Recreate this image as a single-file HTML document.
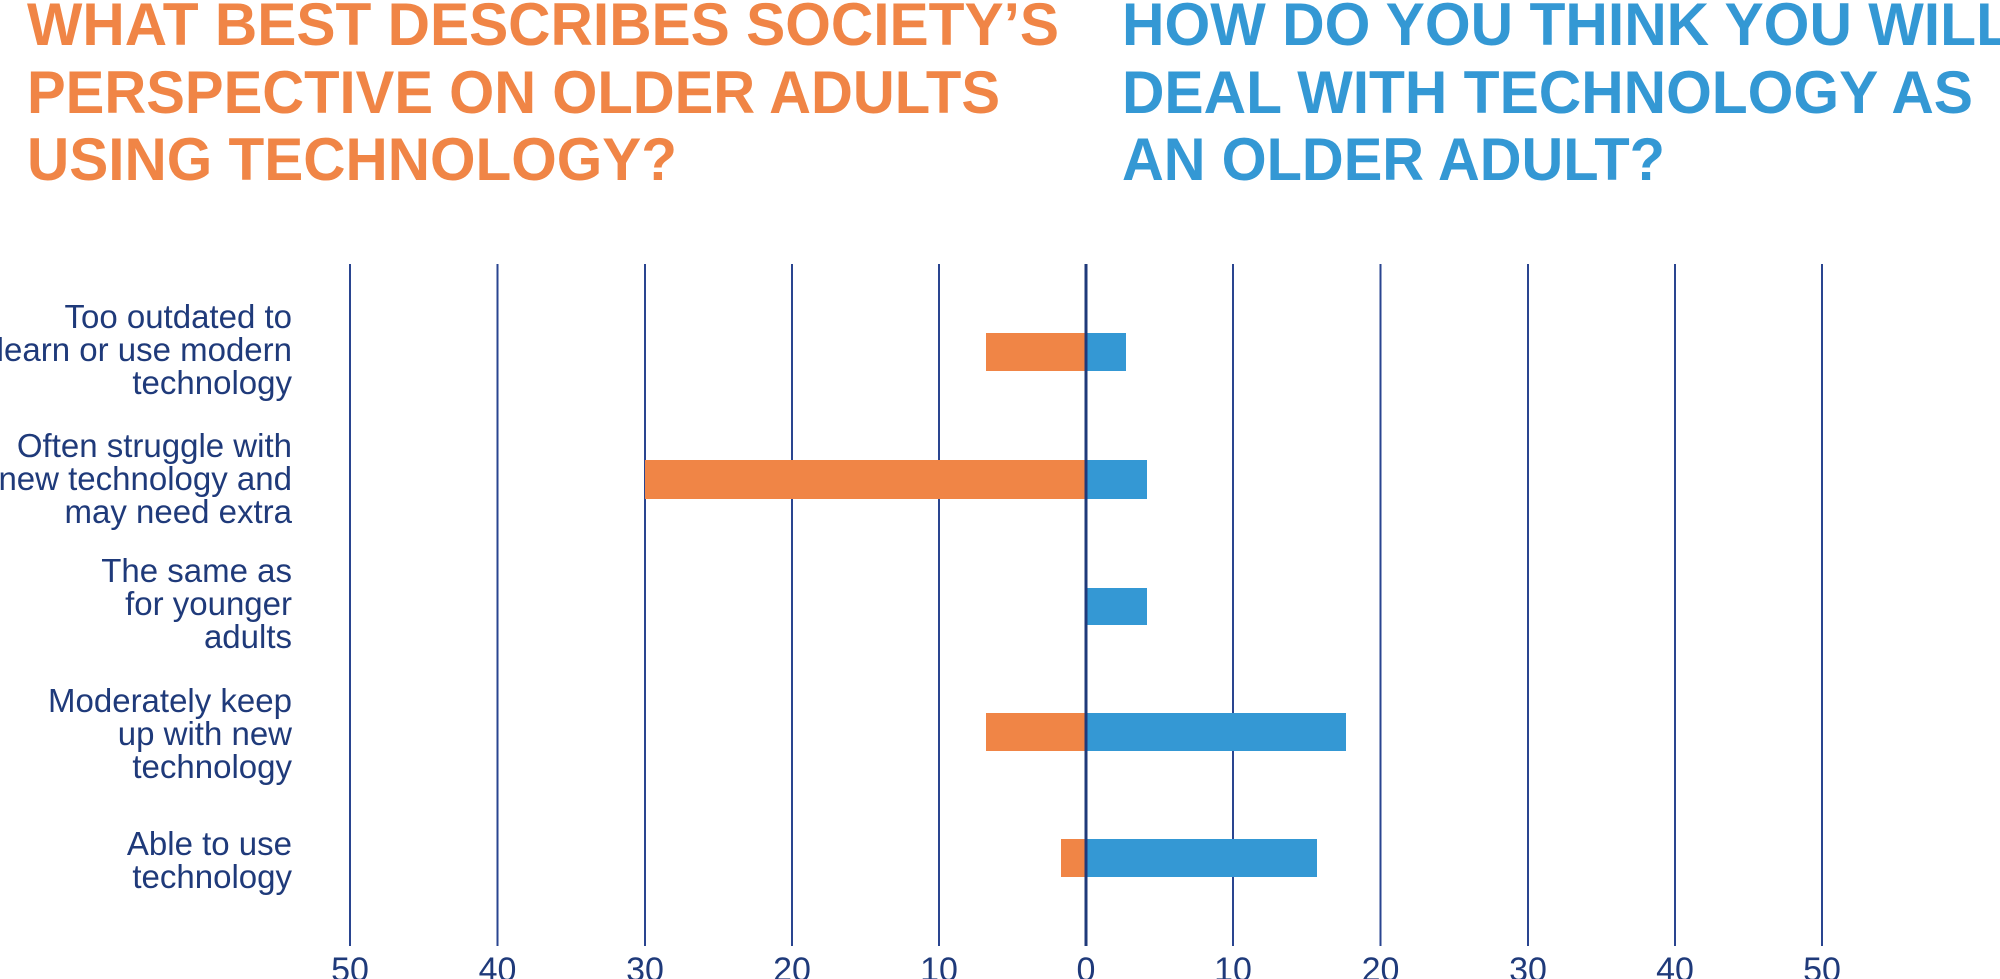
<!DOCTYPE html>
<html><head><meta charset="utf-8"><style>
html,body{margin:0;padding:0;background:#fff;overflow:hidden}
svg{display:block}
text{font-family:"Liberation Sans",sans-serif}
</style></head><body>
<svg width="2000" height="979" viewBox="0 0 2000 979" xmlns="http://www.w3.org/2000/svg">
<g font-weight="bold" font-size="60" fill="#F08546">
<text x="27" y="45" textLength="1032" lengthAdjust="spacingAndGlyphs">WHAT BEST DESCRIBES SOCIETY’S</text>
<text x="27" y="113" textLength="973" lengthAdjust="spacingAndGlyphs">PERSPECTIVE ON OLDER ADULTS</text>
<text x="27" y="180" textLength="650" lengthAdjust="spacingAndGlyphs">USING TECHNOLOGY?</text>
</g>
<g font-weight="bold" font-size="60" fill="#3498D4">
<text x="1122" y="45" textLength="890" lengthAdjust="spacingAndGlyphs">HOW DO YOU THINK YOU WILL</text>
<text x="1122" y="113" textLength="851" lengthAdjust="spacingAndGlyphs">DEAL WITH TECHNOLOGY AS</text>
<text x="1122" y="180" textLength="543" lengthAdjust="spacingAndGlyphs">AN OLDER ADULT?</text>
</g>
<g stroke="#2A4590" stroke-width="2">
<line x1="350" y1="264" x2="350" y2="946"/>
<line x1="497.5" y1="264" x2="497.5" y2="946"/>
<line x1="645" y1="264" x2="645" y2="946"/>
<line x1="792" y1="264" x2="792" y2="946"/>
<line x1="939" y1="264" x2="939" y2="946"/>
<line x1="1233" y1="264" x2="1233" y2="946"/>
<line x1="1380.5" y1="264" x2="1380.5" y2="946"/>
<line x1="1528" y1="264" x2="1528" y2="946"/>
<line x1="1675" y1="264" x2="1675" y2="946"/>
<line x1="1822" y1="264" x2="1822" y2="946"/>
</g>
<g fill="#F08546">
<rect x="986" y="333" width="100" height="38"/>
<rect x="645" y="460" width="441" height="39"/>
<rect x="986" y="713" width="100" height="38"/>
<rect x="1061" y="839" width="25" height="38"/>
</g>
<g fill="#3498D4">
<rect x="1086" y="333" width="40" height="38"/>
<rect x="1086" y="460" width="61" height="39"/>
<rect x="1086" y="588" width="61" height="37"/>
<rect x="1086" y="713" width="260" height="38"/>
<rect x="1086" y="839" width="231" height="38"/>
</g>
<line x1="1086" y1="264" x2="1086" y2="946" stroke="#1F3A7A" stroke-width="3"/>
<g font-size="33" fill="#1F3A7A" text-anchor="end">
<text x="292" y="328">Too outdated to</text>
<text x="292" y="361">learn or use modern</text>
<text x="292" y="394">technology</text>
<text x="292" y="457">Often struggle with</text>
<text x="292" y="490">new technology and</text>
<text x="292" y="523">may need extra</text>
<text x="292" y="582">The same as</text>
<text x="292" y="615">for younger</text>
<text x="292" y="648">adults</text>
<text x="292" y="712">Moderately keep</text>
<text x="292" y="745">up with new</text>
<text x="292" y="778">technology</text>
<text x="292" y="855">Able to use</text>
<text x="292" y="888">technology</text>
</g>
<g font-size="34" fill="#1F3A7A" text-anchor="middle">
<text x="350" y="981">50</text>
<text x="497.5" y="981">40</text>
<text x="645" y="981">30</text>
<text x="792" y="981">20</text>
<text x="939" y="981">10</text>
<text x="1086" y="981">0</text>
<text x="1233" y="981">10</text>
<text x="1380.5" y="981">20</text>
<text x="1528" y="981">30</text>
<text x="1675" y="981">40</text>
<text x="1822" y="981">50</text>
</g>
</svg>
</body></html>
